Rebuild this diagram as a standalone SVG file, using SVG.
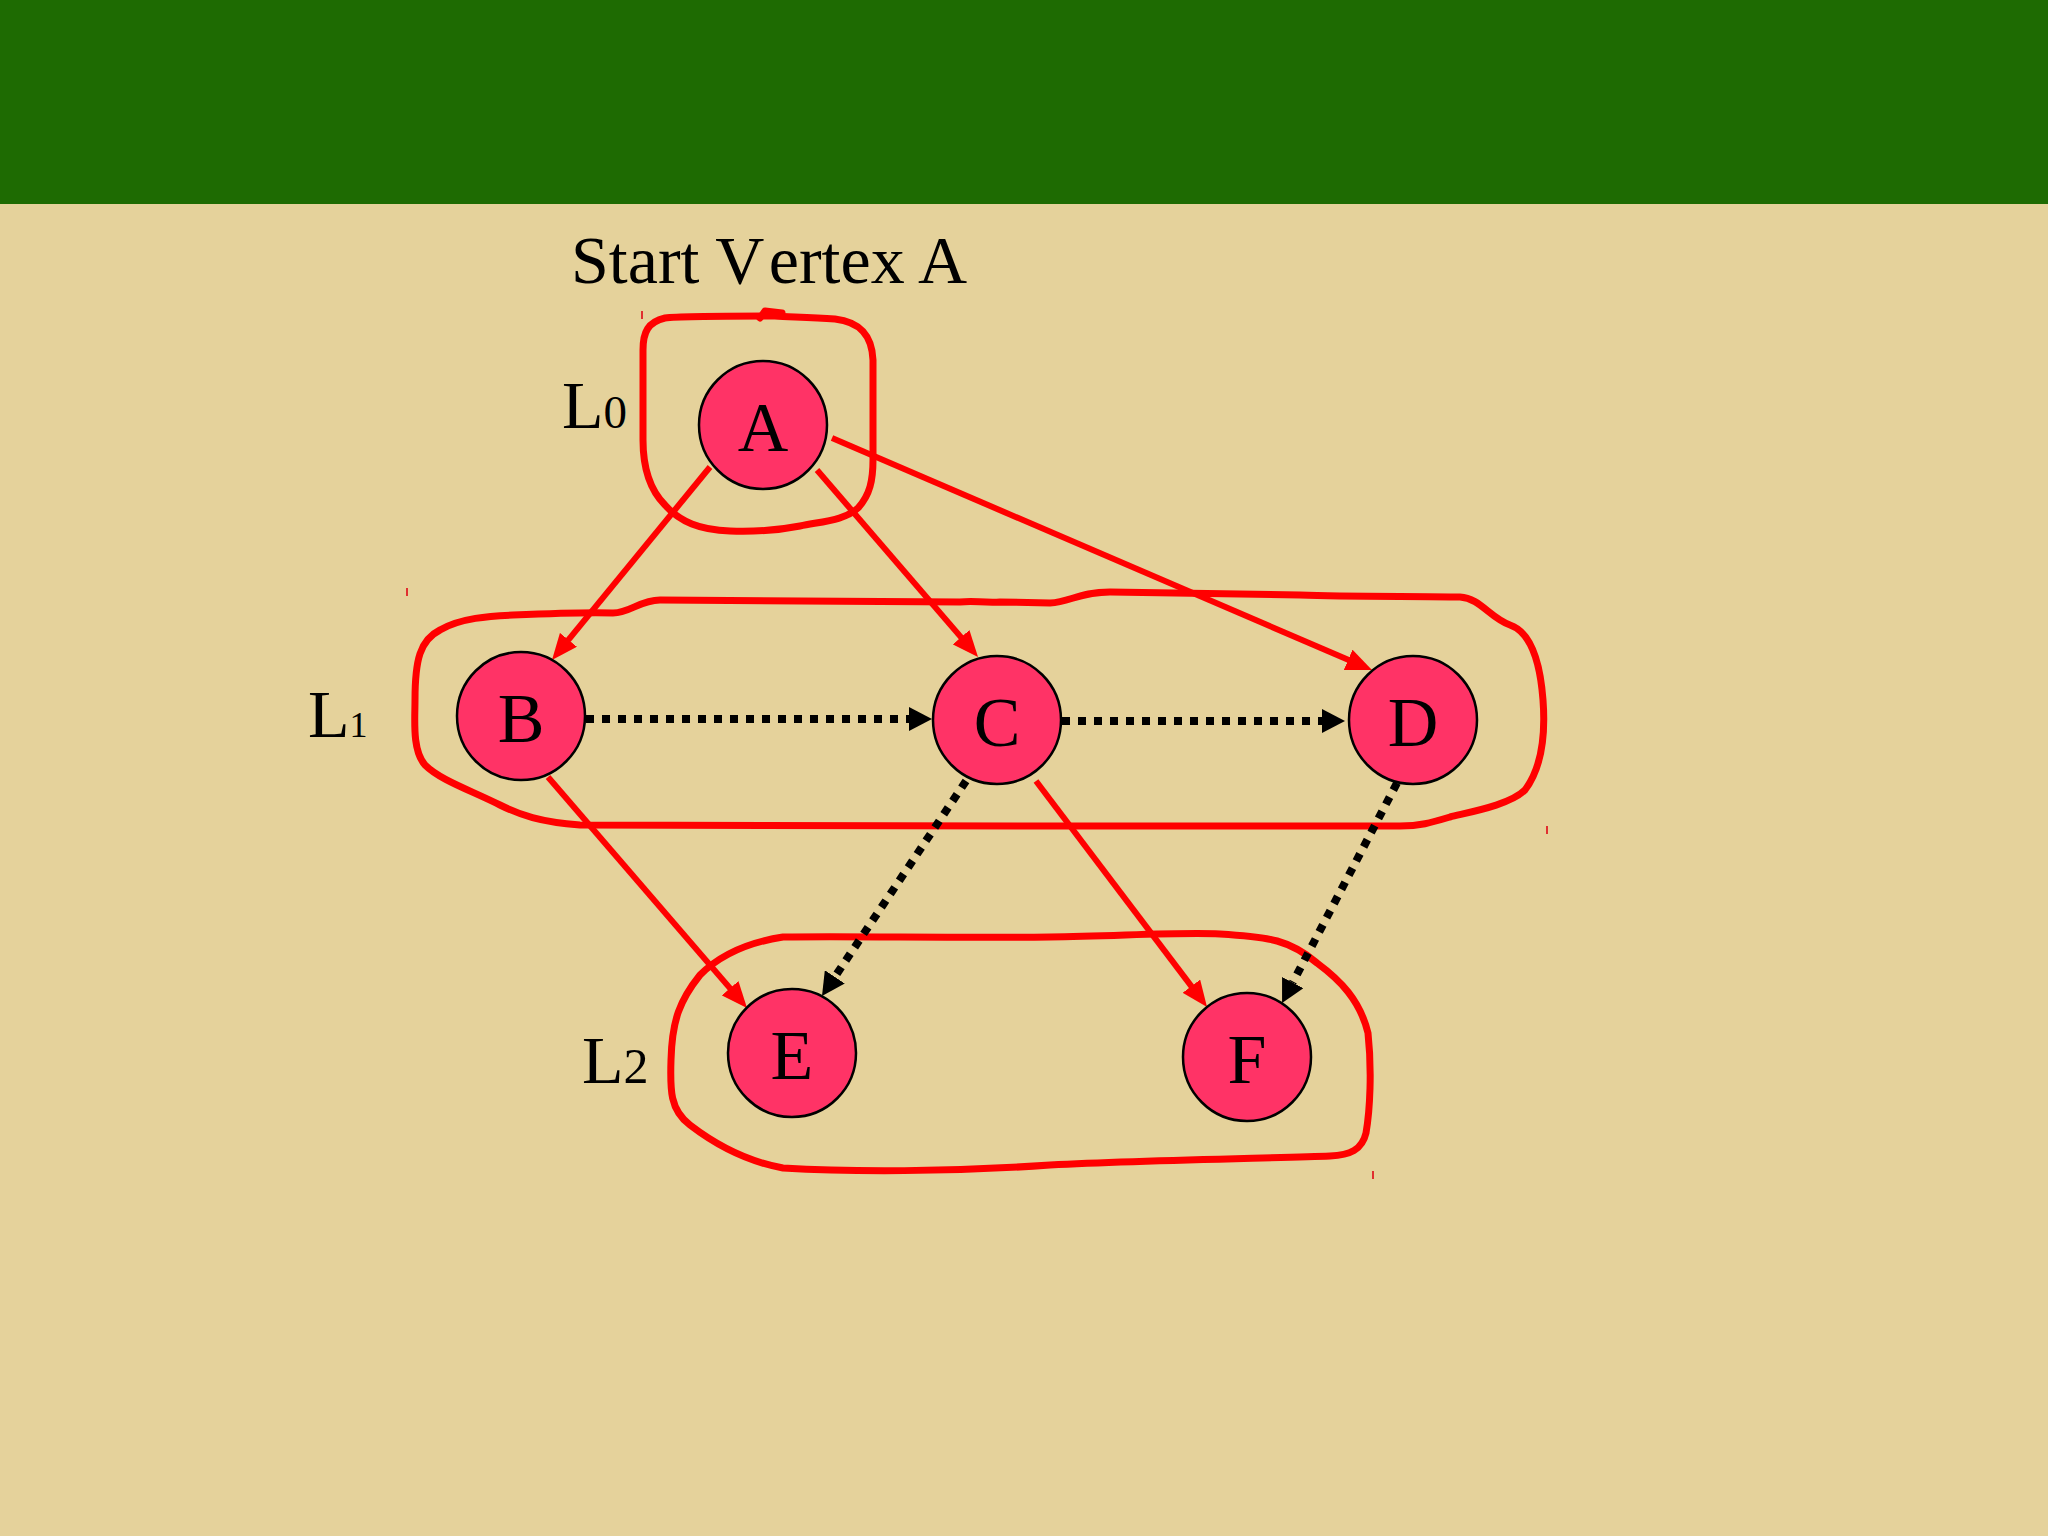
<svg xmlns="http://www.w3.org/2000/svg" width="2048" height="1536" viewBox="0 0 2048 1536">
<defs>
<style>
.node circle{fill:#ff3366;stroke:#000;stroke-width:2.5}
.node text,.lbl{font-family:"Liberation Serif","Times New Roman",serif;fill:#000}
.node text{font-size:70px;text-anchor:middle}
.lbl{font-size:68px}
.red{stroke:#ff0000;stroke-width:6;fill:none}
.dot{stroke:#000;stroke-width:8;stroke-dasharray:8 8;fill:none}
.loop{stroke:#ff0000;stroke-width:7;fill:none;stroke-linejoin:round;stroke-linecap:round}
.tick{stroke:#e03030;stroke-width:2}
</style>
<marker id="ra" viewBox="0 0 26 22" refX="14" refY="11" markerWidth="26" markerHeight="22" markerUnits="userSpaceOnUse" orient="auto">
<path d="M0,0 L26,11 L0,22 Z" fill="#ff0000"/>
</marker>
<marker id="ba" viewBox="0 0 23 24" refX="0" refY="12" markerWidth="23" markerHeight="24" markerUnits="userSpaceOnUse" orient="auto">
<path d="M0,0 L23,12 L0,24 Z" fill="#000"/>
</marker>
</defs>
<rect x="0" y="0" width="2048" height="1536" fill="#e5d29b"/>
<rect x="0" y="0" width="2048" height="204" fill="#1e6b02"/>
<text class="lbl" x="571" y="283">Start V<tspan dx="12">ertex A</tspan></text>
<text class="lbl" x="562" y="428">L<tspan font-size="47">0</tspan></text>
<text class="lbl" x="308" y="737">L<tspan font-size="36">1</tspan></text>
<text class="lbl" x="582" y="1083">L<tspan font-size="50">2</tspan></text>
<g id="loops">
<path class="loop" d="M 767,316 C 720,316 680,316 665,318 C 648,322 643,332 643,350 L 643,440 C 643,470 650,490 665,505 C 680,522 700,530 730,531 C 760,532 780,530 800,526 C 825,521 845,520 858,508 C 870,495 873,480 873,460 L 873,360 C 872,335 860,322 835,319 C 810,317 790,317 775,316 Z"/>
<path class="loop" d="M 760,318 L 765,311 L 782,313"/>
<path class="loop" d="M 513,615 C 560,613 590,612 613,613 C 630,613 640,600 660,600 L 960,602 C 975,600 980,603 1000,602 L 1050,603 C 1070,602 1080,592 1110,592 L 1300,595 C 1350,597 1420,596 1460,597 C 1480,598 1490,618 1510,625 C 1530,632 1540,660 1543,700 C 1546,740 1540,770 1525,790 C 1510,805 1470,812 1450,817 C 1430,823 1420,826 1400,826 L 1050,826 L 580,825 C 540,822 520,815 500,805 C 470,790 440,780 425,765 C 412,750 415,720 415,700 C 415,660 420,640 440,630 C 460,618 490,616 513,615 Z"/>
<path class="loop" d="M 783,937 C 850,936 950,938 1050,937 C 1120,936 1180,932 1220,934 C 1270,937 1290,940 1317,963 C 1340,980 1360,1000 1368,1033 C 1372,1070 1370,1110 1366,1133 C 1362,1150 1350,1155 1330,1156 C 1280,1158 1150,1160 1050,1165 C 950,1172 850,1172 783,1168 C 750,1162 720,1148 690,1125 C 670,1110 670,1090 671,1060 C 672,1020 680,1000 700,975 C 720,955 750,942 783,937 Z"/>
<line class="tick" x1="642" y1="311" x2="642" y2="319"/>
<line class="tick" x1="407" y1="588" x2="407" y2="596"/>
<line class="tick" x1="1547" y1="826" x2="1547" y2="834"/>
<line class="tick" x1="1373" y1="1171" x2="1373" y2="1179"/>
</g>
<g id="connectors">
<line class="red" x1="710" y1="467" x2="559.6" y2="650.7" marker-end="url(#ra)"/>
<line class="red" x1="817" y1="470" x2="970.2" y2="647.9" marker-end="url(#ra)"/>
<line class="red" x1="832" y1="438" x2="1361" y2="665.3" marker-end="url(#ra)"/>
<line class="red" x1="548" y1="777" x2="739.2" y2="998.9" marker-end="url(#ra)"/>
<line class="red" x1="1036" y1="781" x2="1199.8" y2="997.4" marker-end="url(#ra)"/>
<line class="dot" x1="586" y1="719" x2="909" y2="719" marker-end="url(#ba)"/>
<line class="dot" x1="1062" y1="721" x2="1322" y2="721" marker-end="url(#ba)"/>
<line class="dot" x1="966" y1="781" x2="834.8" y2="976.9" marker-end="url(#ba)"/>
<line class="dot" x1="1397" y1="783" x2="1292.7" y2="982.6" marker-end="url(#ba)"/>
</g>
<g id="node-A" class="node"><circle cx="763" cy="425" r="64"/><text x="763" y="451">A</text></g>
<g id="node-B" class="node"><circle cx="521" cy="716" r="64"/><text x="521" y="742">B</text></g>
<g id="node-C" class="node"><circle cx="997" cy="720" r="64"/><text x="997" y="746">C</text></g>
<g id="node-D" class="node"><circle cx="1413" cy="720" r="64"/><text x="1413" y="746">D</text></g>
<g id="node-E" class="node"><circle cx="792" cy="1053" r="64"/><text x="792" y="1079">E</text></g>
<g id="node-F" class="node"><circle cx="1247" cy="1057" r="64"/><text x="1247" y="1083">F</text></g>
</svg>
